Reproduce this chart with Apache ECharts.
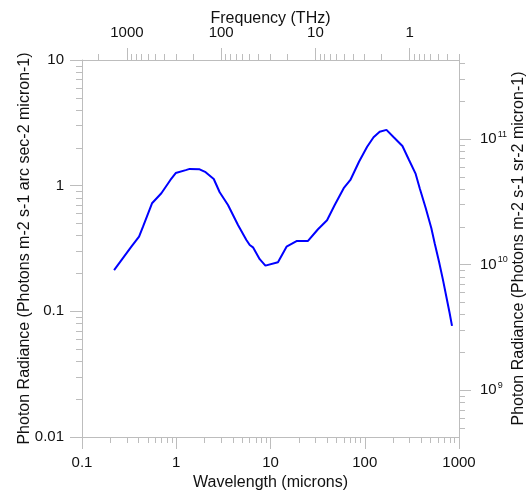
<!DOCTYPE html>
<html>
<head>
<meta charset="utf-8">
<script src="https://cdn.jsdelivr.net/npm/echarts@6/dist/echarts.min.js"></script>
<style>
html, body {margin:0; padding:0; background:#fff;}
#main {width:530px; height:495px;}
</style>
</head>
<body>
<div id="main"></div>
<script>
// wavelength in microns, radiance in photons m-2 s-1 arcsec-2 micron-1
let wavelength = [0.219, 0.334, 0.403, 0.444, 0.553, 0.695, 0.867, 0.987, 1.26, 1.39, 1.77, 2.05, 2.50,
    2.89, 3.54, 4.52, 5.55, 6.02, 6.52, 7.68, 8.83, 12.0, 14.8, 19.1, 25.0, 31.9, 39.8, 48.0, 59.8,
    70.4, 86.9, 106, 124, 144, 170, 203, 251, 295, 347, 383, 444, 509, 552, 614, 676, 746, 796, 843];
let radiance = [0.213, 0.327, 0.393, 0.472, 0.724, 0.871, 1.11, 1.26, 1.33, 1.36, 1.35, 1.28, 1.13,
    0.886, 0.702, 0.487, 0.370, 0.337, 0.323, 0.260, 0.231, 0.246, 0.327, 0.363, 0.363, 0.450, 0.531, 0.702, 0.954,
    1.11, 1.55, 2.04, 2.43, 2.69, 2.78, 2.43, 2.07, 1.60, 1.24, 0.954, 0.661, 0.458, 0.348, 0.248, 0.178, 0.123, 0.0966, 0.0766];

let lambdaTicks = [0.1, 1, 10, 100, 1000];
let radianceTicks = [0.01, 0.1, 1, 10];
let freqTicks = [1, 10, 100, 1000];
let srTicks = [1e9, 1e10, 1e11];

const C_THZ_UM = 299.792458;      // nu(THz) = c / lambda(um)
const ARCSEC2_PER_SR = 4.2545e10;

// 2..9 x 10^k inside [lo, hi]
function minors(lo, hi){
    let out = [];
    for (let k = -4; k <= 14; k++){
        for (let m = 2; m <= 9; m++){
            let v = m * Math.pow(10, k);
            if (v >= lo * 0.9999 && v <= hi * 1.0001) out.push(v);
        }
    }
    return out;
}

let gray = '#bdbdbd';
let font = 'Liberation Sans, Arial, sans-serif';
let lbl = {color:'#111', fontSize:15, fontFamily:font, formatter: v => String(v)};

function majorAxis(extra){
    return Object.assign({
        type: 'log',
        logBase: 10,
        splitLine: {show:false},
        axisLine: {show:true, lineStyle:{color:gray, width:1}},
        axisTick: {show:true, length:12, lineStyle:{color:gray}},
        nameTextStyle: {color:'#111', fontSize:16, fontFamily:font},
        nameLocation: 'middle',
        nameMoveOverlap: false
    }, extra);
}
function minorAxis(extra, values){
    return Object.assign({
        type: 'log',
        logBase: 10,
        splitLine: {show:false},
        axisLine: {show:false},
        axisLabel: {show:false},
        axisTick: {show:true, length:6, lineStyle:{color:gray}, customValues: values}
    }, extra);
}

let xMin = 0.1, xMax = 1000, yMin = 0.01, yMax = 10;
let fMin = C_THZ_UM / xMax, fMax = C_THZ_UM / xMin;
let sMin = yMin * ARCSEC2_PER_SR, sMax = yMax * ARCSEC2_PER_SR;

let option = {
    animation: false,
    grid: {left: 82, right: 71, top: 60, bottom: 58, outerBoundsMode: 'none', containLabel: false},
    xAxis: [
        majorAxis({position:'bottom', min:xMin, max:xMax, name:'Wavelength (microns)', nameGap:38,
            axisTick:{show:true, length:12, lineStyle:{color:gray}, customValues: lambdaTicks},
            axisLabel: Object.assign({margin:18, customValues: lambdaTicks}, lbl)}),
        majorAxis({position:'top', min:fMin, max:fMax, inverse:true, name:'Frequency (THz)', nameGap:33,
            axisTick:{show:true, length:12, lineStyle:{color:gray}, customValues: freqTicks},
            axisLabel: Object.assign({margin:20, customValues: freqTicks}, lbl)}),
        minorAxis({position:'bottom', min:xMin, max:xMax}, minors(xMin, xMax)),
        minorAxis({position:'top', min:fMin, max:fMax, inverse:true}, minors(fMin, fMax))
    ],
    yAxis: [
        majorAxis({position:'left', min:yMin, max:yMax, nameRotate:90, nameGap:49,
            name:'Photon Radiance (Photons m-2 s-1 arc sec-2 micron-1)',
            axisTick:{show:true, length:12, lineStyle:{color:gray}, customValues: radianceTicks},
            axisLabel: Object.assign({margin:18, customValues: radianceTicks}, lbl)}),
        majorAxis({position:'right', min:sMin, max:sMax, nameRotate:90, nameGap:52,
            name:'Photon Radiance (Photons m-2 s-1 sr-2 micron-1)',
            axisTick:{show:true, length:12, lineStyle:{color:gray}, customValues: srTicks},
            axisLabel: Object.assign({}, lbl, {margin:21, customValues: srTicks,
                formatter: v => '{b|10}{s|' + Math.round(Math.log10(v)) + '}',
                rich: {
                    b: {color:'#111', fontSize:15, fontFamily:font},
                    s: {color:'#111', fontSize:9, fontFamily:font, padding:[0,0,10,1]}
                }})}),
        minorAxis({position:'left', min:yMin, max:yMax}, minors(yMin, yMax)),
        minorAxis({position:'right', min:sMin, max:sMax}, minors(sMin, sMax))
    ],
    series: [{
        type: 'line',
        xAxisIndex: 0,
        yAxisIndex: 0,
        data: wavelength.map((w, i) => [w, radiance[i]]),
        showSymbol: false,
        lineStyle: {color:'#0000ff', width:2}
    }]
};

let chart = echarts.init(document.getElementById('main'));
chart.setOption(option);
</script>
</body>
</html>
